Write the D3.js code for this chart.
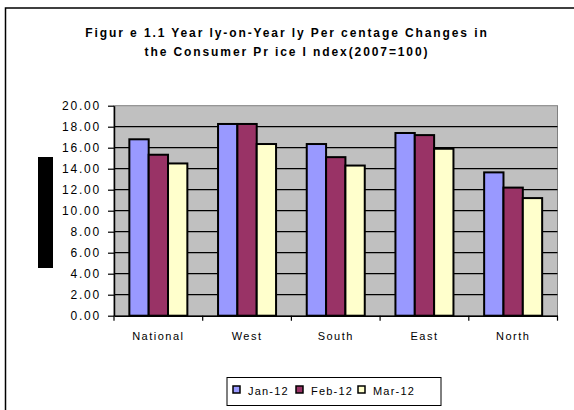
<!DOCTYPE html>
<html>
<head>
<meta charset="utf-8">
<script src="https://cdn.jsdelivr.net/npm/d3@7"></script>
<style>
  body { margin: 0; background: #fff; }
  text { font-family: "Liberation Sans", Arial, sans-serif; fill: #000; }
</style>
</head>
<body>
<div class="canvas"></div>
<script>
// data
const regions = ['National', 'West', 'South', 'East', 'North'];
const seriesNames = ['Jan-12', 'Feb-12', 'Mar-12'];
const jan12 = [16.8, 18.26, 16.35, 17.4, 13.65];
const feb12 = [15.33, 18.26, 15.1, 17.2, 12.2];
const mar12 = [14.5, 16.35, 14.3, 15.9, 11.2];
const yTicks = [0, 2, 4, 6, 8, 10, 12, 14, 16, 18, 20];
const titleLines = ['Figur e 1.1 Year ly-on-Year ly Per centage Changes in',
                    'the Consumer Pr ice I ndex(2007=100)'];

const colors = ['#9999FF', '#993366', '#FFFFCC'];
const seriesValues = [jan12, feb12, mar12];

// plot box
const plot = {left: 114, right: 557.5, top: 105.7, bottom: 315.7};

const svg = d3.select('.canvas').append('svg')
    .attr('width', 574)
    .attr('height', 410);

// outer frame (only top/left visible)
svg.append('rect')
    .attr('x', 5.5).attr('y', 8)
    .attr('width', 600).attr('height', 420)
    .attr('fill', 'none')
    .attr('stroke', '#000')
    .attr('stroke-width', 1.5);

// title
svg.append('g').selectAll('text')
    .data(titleLines)
    .join('text')
    .attr('x', 287)
    .attr('y', (d, i) => 37 + i * 19)
    .attr('text-anchor', 'middle')
    .style('font-size', '12px')
    .style('font-weight', 'bold')
    .style('letter-spacing', '1.9px')
    .text(d => d);

// scales
const x0 = d3.scaleBand()
    .domain(regions)
    .range([plot.left, plot.right])
    .paddingInner(0.346)
    .paddingOuter(0.173);
const x1 = d3.scaleBand()
    .domain(seriesNames)
    .range([0, x0.bandwidth()]);
const y = d3.scaleLinear()
    .domain([0, 20])
    .range([plot.bottom, plot.top]);

// plot background
svg.append('rect')
    .attr('x', plot.left).attr('y', plot.top)
    .attr('width', plot.right - plot.left)
    .attr('height', plot.bottom - plot.top)
    .attr('fill', '#C0C0C0')
    .attr('stroke', '#808080')
    .attr('stroke-width', 1);

// gridlines
svg.append('g').selectAll('line')
    .data(yTicks.filter(d => d > 0 && d < 20))
    .join('line')
    .attr('x1', plot.left).attr('x2', plot.right)
    .attr('y1', d => y(d)).attr('y2', d => y(d))
    .attr('stroke', '#000')
    .attr('stroke-width', 1.2);

// bars
const rows = regions.map((r, i) => ({region: r, vals: seriesNames.map((s, j) => ({s, v: seriesValues[j][i], c: colors[j]}))}));
svg.append('g').selectAll('g')
    .data(rows)
    .join('g')
    .attr('transform', d => `translate(${x0(d.region)},0)`)
    .selectAll('rect')
    .data(d => d.vals)
    .join('rect')
    .attr('x', d => x1(d.s))
    .attr('y', d => y(d.v))
    .attr('width', x1.bandwidth())
    .attr('height', d => y(0) - y(d.v))
    .attr('fill', d => d.c)
    .attr('stroke', '#000')
    .attr('stroke-width', 2);

// y axis
const yAxis = svg.append('g')
    .attr('transform', `translate(${plot.left},0)`)
    .call(d3.axisLeft(y).tickValues(yTicks).tickFormat(d3.format('.2f')).tickSize(6).tickSizeOuter(0));
yAxis.select('.domain').attr('stroke-width', 1.5);
yAxis.selectAll('.tick line').attr('stroke-width', 1.2);
yAxis.selectAll('text')
    .attr('x', -13)
    .style('font-size', '12px')
    .style('letter-spacing', '1.8px')
    .style('font-family', '"Liberation Sans", Arial, sans-serif');

// x axis
const xAxis = svg.append('g')
    .attr('transform', `translate(0,${plot.bottom})`)
    .call(d3.axisBottom(x0).tickSize(0).tickSizeOuter(0));
xAxis.select('.domain').attr('stroke-width', 1.5);
xAxis.selectAll('text')
    .attr('y', 17)
    .style('font-size', '11px')
    .style('letter-spacing', '1.5px')
    .style('font-family', '"Liberation Sans", Arial, sans-serif');
// category separator ticks
xAxis.append('g').selectAll('line')
    .data(regions.concat(['end']))
    .join('line')
    .attr('x1', (d, i) => i < regions.length ? x0(d) - x0.step() * 0.173 : plot.right)
    .attr('x2', (d, i) => i < regions.length ? x0(d) - x0.step() * 0.173 : plot.right)
    .attr('y1', 0).attr('y2', 5)
    .attr('stroke', '#000')
    .attr('stroke-width', 1.2);

// axis title (blacked out box)
svg.append('rect')
    .attr('x', 38).attr('y', 157)
    .attr('width', 15).attr('height', 111)
    .attr('fill', '#000');

// legend
const legend = svg.append('g');
legend.append('rect')
    .attr('x', 227).attr('y', 377.5)
    .attr('width', 214).attr('height', 28)
    .attr('fill', '#fff')
    .attr('stroke', '#000')
    .attr('stroke-width', 1);
const legendX = [233, 296, 358];
const items = legend.selectAll('g.item')
    .data(seriesNames)
    .join('g')
    .attr('class', 'item')
    .attr('transform', (d, i) => `translate(${legendX[i]},386)`);
items.append('rect')
    .attr('width', 7).attr('height', 7)
    .attr('fill', (d, i) => colors[i])
    .attr('stroke', '#000')
    .attr('stroke-width', 1.5);
items.append('text')
    .attr('x', 15).attr('y', 8.5)
    .style('font-size', '11px')
    .style('letter-spacing', '1.2px')
    .text(d => d);
</script>
</body>
</html>
